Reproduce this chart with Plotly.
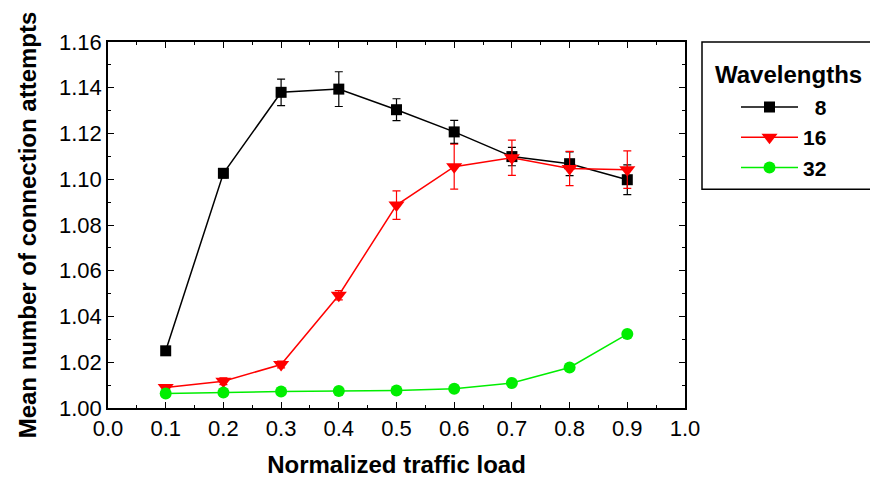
import plotly.graph_objects as go

load = [0.1, 0.2, 0.3, 0.4, 0.5, 0.6, 0.7, 0.8, 0.9]
w8 = [1.0250, 1.1026, 1.1380, 1.1394, 1.1304, 1.1207, 1.1099, 1.1068, 1.0998]
w8_err = [0.0010, 0.0020, 0.0058, 0.0076, 0.0048, 0.0050, 0.0040, 0.0052, 0.0065]
w16 = [1.0090, 1.0117, 1.0190, 1.0493, 1.0887, 1.1055, 1.1094, 1.1047, 1.1042]
w16_err = [0.0010, 0.0015, 0.0015, 0.0020, 0.0062, 0.0098, 0.0077, 0.0075, 0.0082]
w32 = [1.0063, 1.0068, 1.0072, 1.0074, 1.0077, 1.0084, 1.0109, 1.0177, 1.0323]

series = [
    ("\u00a0\u00a08", w8, w8_err, "black", "square", 11),
    ("16", w16, w16_err, "#ff0000", "triangle-down", 14),
    ("32", w32, None, "#00ee00", "circle", 12),
]

fig = go.Figure()
for name, ys, err, col, sym, sz in series:
    fig.add_trace(go.Scatter(
        x=load, y=ys, name=name, mode="lines+markers",
        line=dict(color=col, width=1.5),
        marker=dict(symbol=sym, size=sz, color=col, line=dict(width=0)),
        error_y=(dict(type="data", array=err, visible=True, color=col,
                      thickness=1.2, width=4) if err else None),
    ))

font = "Liberation Sans, Arial, sans-serif"
axis_common = dict(
    showline=True, linecolor="black", linewidth=1.5, mirror="ticks",
    ticks="inside", ticklen=6, tickwidth=1.2, tickcolor="black",
    showgrid=False, zeroline=False,
    tickfont=dict(family=font, size=22, color="black"),
)
fig.update_xaxes(
    range=[0.0, 1.0], dtick=0.1, tickformat=".1f",
    minor=dict(dtick=0.05, ticks="inside", ticklen=3, tickwidth=1.2, tickcolor="black"),
    title=dict(text="<b>Normalized traffic load</b>", font=dict(family=font, size=24, color="black"), standoff=16),
    **axis_common,
)
fig.update_yaxes(
    range=[1.0, 1.16], dtick=0.02, tickformat=".2f",
    minor=dict(dtick=0.01, ticks="inside", ticklen=3, tickwidth=1.2, tickcolor="black"),
    title=dict(text="<b>Mean number of connection attempts</b>", font=dict(family=font, size=24, color="black"), standoff=16),
    **axis_common,
)

L, R, T, B = 108, 685, 42, 410
W, H = 870, 486
pw, ph = R - L, B - T
def px(xp): return (xp - L) / pw
def py(yp): return (B - yp) / ph

fig.add_shape(type="rect", xref="paper", yref="paper",
              x0=px(702), x1=px(880), y0=py(190), y1=py(42),
              line=dict(color="black", width=1.5), fillcolor="rgba(0,0,0,0)")
fig.add_annotation(xref="paper", yref="paper", x=px(788), y=py(75),
                   text="<b>Wavelengths</b>", showarrow=False,
                   xanchor="center", yanchor="middle",
                   font=dict(family=font, size=24, color="black"))

fig.update_layout(
    width=W, height=H,
    margin=dict(l=L, r=W - R, t=T, b=H - B),
    paper_bgcolor="white", plot_bgcolor="white",
    font=dict(family=font, color="black"),
    legend=dict(
        x=px(736), y=py(87), xanchor="left", yanchor="top",
        font=dict(family=font, size=21, color="black", weight="bold"),
        bgcolor="rgba(0,0,0,0)", borderwidth=0,
        itemwidth=57, tracegroupgap=0,
    ),
)

fig.write_html("out.html")
